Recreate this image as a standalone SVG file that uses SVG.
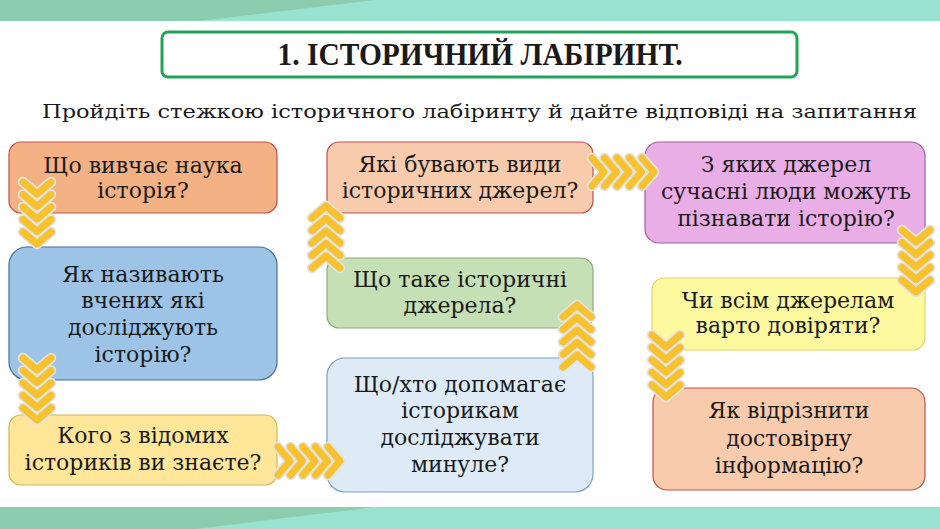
<svg xmlns="http://www.w3.org/2000/svg" xmlns:xlink="http://www.w3.org/1999/xlink" width="940" height="529" viewBox="0 0 940 529">
<style>
.q{font-family:"DejaVu Serif","Liberation Serif",serif;font-size:22px;fill:#1a1a1a;text-anchor:middle}
.box{stroke-width:1.2}
.co{fill:none;stroke:#e2e2e2;stroke-width:10.5;stroke-linecap:round;stroke-linejoin:round}
.cy{fill:none;stroke:#f8c22e;stroke-width:7;stroke-linecap:round;stroke-linejoin:round}
</style>
<defs>
<g id="ch"><path class="co" d="M-14,-6 L0,6 L14,-6"/><path class="cy" d="M-14,-6 L0,6 L14,-6"/></g>
<g id="ch5"><use xlink:href="#ch"/><use xlink:href="#ch" y="12.5"/><use xlink:href="#ch" y="25"/><use xlink:href="#ch" y="37.5"/><use xlink:href="#ch" y="50"/></g>
</defs>
<rect width="940" height="529" fill="#ffffff"/>
<g id="bands">
<rect x="0" y="0" width="940" height="21" fill="#98e2cf"/>
<polygon points="0,0 375,0 200,21 0,21" fill="#8dcdaf"/>
<rect x="0" y="507" width="940" height="22" fill="#98e2cf"/>
<polygon points="0,507 375,507 196,529 0,529" fill="#8dcdaf"/>
</g>
<g id="title">
<rect x="162" y="32" width="635" height="45" rx="6" fill="#ffffff" stroke="#22a35a" stroke-width="3"/>
<text x="480" y="65" font-family="Liberation Serif,serif" font-weight="bold" font-size="31" text-anchor="middle" fill="#1a1a1a" textLength="405" lengthAdjust="spacingAndGlyphs">1. ІСТОРИЧНИЙ ЛАБІРИНТ.</text>
</g>
<text id="subtitle" x="42" y="118" font-family="DejaVu Serif,serif" font-size="19" fill="#1a1a1a" textLength="875" lengthAdjust="spacingAndGlyphs">Пройдіть стежкою історичного лабіринту й дайте відповіді на запитання</text>

<g id="n1"><rect class="box" x="9" y="142" width="268" height="71" rx="12" fill="#f4b183" stroke="#c0504d"/>
<text class="q"><tspan x="143" y="173">Що вивчає наука</tspan><tspan x="143" y="198">історія?</tspan></text></g>
<g id="n2"><rect class="box" x="9" y="247" width="268" height="133" rx="18" fill="#9dc3e6" stroke="#41719c"/>
<text class="q"><tspan x="143" y="282">Як називають</tspan><tspan x="143" y="308">вчених які</tspan><tspan x="143" y="335">досліджують</tspan><tspan x="143" y="362">історію?</tspan></text></g>
<g id="n3"><rect class="box" x="9" y="415" width="268" height="70" rx="12" fill="#ffe699" stroke="#d6b656"/>
<text class="q"><tspan x="143" y="443">Кого з відомих</tspan><tspan x="143" y="470">істориків ви знаєте?</tspan></text></g>
<g id="n4"><rect class="box" x="327" y="358" width="266" height="134" rx="18" fill="#deebf7" stroke="#7f9fbf"/>
<text class="q"><tspan x="460" y="392">Що/хто допомагає</tspan><tspan x="460" y="418">історикам</tspan><tspan x="460" y="445">досліджувати</tspan><tspan x="460" y="472">минуле?</tspan></text></g>
<g id="n5"><rect class="box" x="327" y="258" width="266" height="70" rx="12" fill="#c5e0b4" stroke="#8faa7a"/>
<text class="q"><tspan x="460" y="287">Що таке історичні</tspan><tspan x="460" y="313">джерела?</tspan></text></g>
<g id="n6"><rect class="box" x="327" y="142" width="266" height="71" rx="12" fill="#f8cbad" stroke="#c0504d"/>
<text class="q"><tspan x="460" y="172">Які бувають види</tspan><tspan x="460" y="198">історичних джерел?</tspan></text></g>
<g id="n7"><rect class="box" x="645" y="142" width="280" height="101" rx="14" fill="#eaaee6" stroke="#a25ea0"/>
<text class="q"><tspan x="786" y="172">З яких джерел</tspan><tspan x="786" y="199">сучасні люди можуть</tspan><tspan x="786" y="226">пізнавати історію?</tspan></text></g>
<g id="n8"><rect class="box" x="652" y="278" width="273" height="72" rx="12" fill="#fdf99e" stroke="#e3d56a"/>
<text class="q"><tspan x="788" y="308">Чи всім джерелам</tspan><tspan x="788" y="333">варто довіряти?</tspan></text></g>
<g id="n9"><rect class="box" x="653" y="388" width="272" height="102" rx="14" fill="#f8cbad" stroke="#c0504d"/>
<text class="q"><tspan x="789" y="418">Як відрізнити</tspan><tspan x="789" y="446">достовірну</tspan><tspan x="789" y="473">інформацію?</tspan></text></g>

<g id="connectors">
<use xlink:href="#ch5" transform="translate(37,188)"/>
<use xlink:href="#ch5" transform="translate(37,364)"/>
<use xlink:href="#ch5" transform="translate(284,461) rotate(-90)"/>
<use xlink:href="#ch5" transform="translate(577,361) rotate(180)"/>
<use xlink:href="#ch5" transform="translate(326,262) rotate(180)"/>
<use xlink:href="#ch5" transform="translate(598,172) rotate(-90)"/>
<use xlink:href="#ch5" transform="translate(916,236)"/>
<use xlink:href="#ch5" transform="translate(666,341)"/>
</g>
</svg>
